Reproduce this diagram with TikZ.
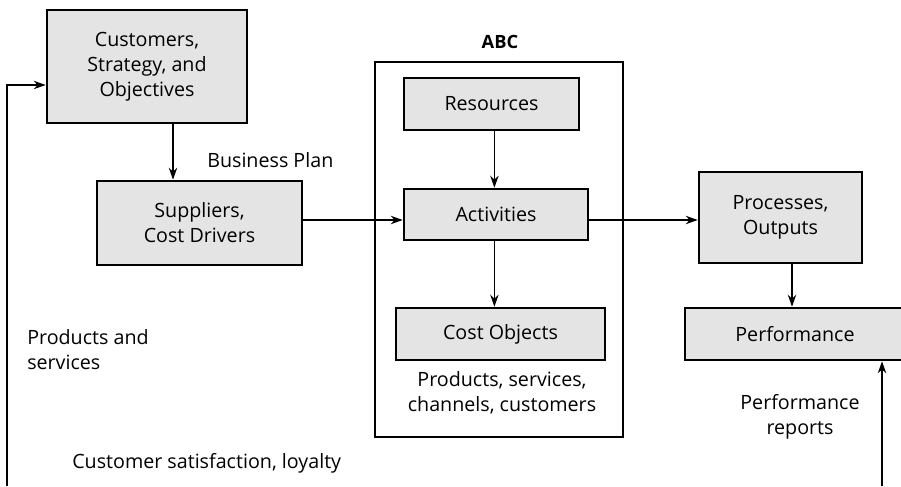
\documentclass[tikz,border=0pt]{standalone}
\usepackage{fontspec}
\setmainfont{Open Sans}
\usepackage{tikz}
\usetikzlibrary{arrows.meta}
\definecolor{boxgray}{HTML}{E4E4E4}

\begin{document}
\begin{tikzpicture}[
	box/.style = {draw, line width=1.9pt, fill=boxgray, align=center, inner sep=0pt},
	lbl/.style = {inner sep=0pt, align=center},
	flow/.style = {->, >={Stealth[length=8.5pt,width=6pt]}, line width=0.8pt},
	font=\fontsize{14}{17.8}\selectfont]
	\useasboundingbox (0,0) rectangle (22.525,12.15);
	\clip (0,0) rectangle (22.525,12.15);

	% ABC frame
	\draw [line width=0.8pt] (9.375,1.225) rectangle (15.575,10.6);
	\node [lbl, font=\fontsize{13}{15}\selectfont\bfseries] (abc) at (12.5,11.1) {ABC};

	\node [box, minimum width=5cm, minimum height=2.825cm] (cust) at (3.675,10.4875) {Customers,\\Strategy, and\\Objectives};
	\node [box, minimum width=5.125cm, minimum height=2.1cm] (supp) at (4.9875,6.575) {Suppliers,\\Cost Drivers};
	\node [box, minimum width=4.375cm, minimum height=1.3cm] (res) at (12.2875,9.55) {Resources};
	\node [box, minimum width=4.6cm, minimum height=1.275cm] (act) at (12.4,6.7875) {Activities};
	\node [box, minimum width=5.225cm, minimum height=1.3cm] (cobj) at (12.5125,3.8) {Cost Objects};
	\node [box, minimum width=4.075cm, minimum height=2.275cm] (proc) at (19.5125,6.7125) {Processes,\\Outputs};
	\node [box, minimum width=5.5cm, minimum height=1.3cm] (perf) at (19.875,3.8) {Performance};

	\node [lbl, anchor=west] (bplan) at (5.175,8.15) {Business Plan};
	\node [lbl, anchor=west, align=left] (prodsv) at (0.675,3.4) {Products and\\services};
	\node [lbl, anchor=west] (custsat) at (1.8,0.575) {Customer satisfaction, loyalty};
	\node [lbl] (cobjtxt) at (12.55,2.325) {Products, services,\\channels, customers};
	\node [lbl] (perfrep) at (20.0,1.725) {Performance\\reports};

	\coordinate (fbleft) at (0.175,0);
	\coordinate (fbright) at (22.05,0);
	\coordinate (mainline) at (0,6.65);
	\coordinate (abcaxis) at (12.36,0);
	\coordinate (perfaxis) at (19.8,0);

	\draw [flow] (fbleft) |- ([yshift=-0.4625cm]cust.west);
	\draw [flow] ([xshift=0.65cm]cust.south) -- ([xshift=0.65cm]cust.south |- supp.north);
	\draw [flow] (supp.east |- mainline) -- (act.west |- mainline);
	\draw [flow] (act.east |- mainline) -- (proc.west |- mainline);
	\draw [flow] (res.south -| abcaxis) -- (act.north -| abcaxis);
	\draw [flow] (act.south -| abcaxis) -- (cobj.north -| abcaxis);
	\draw [flow] (proc.south -| perfaxis) -- (perf.north -| perfaxis);
	\draw [flow] (fbright) -- (fbright |- perf.south);
\end{tikzpicture}
\end{document}
